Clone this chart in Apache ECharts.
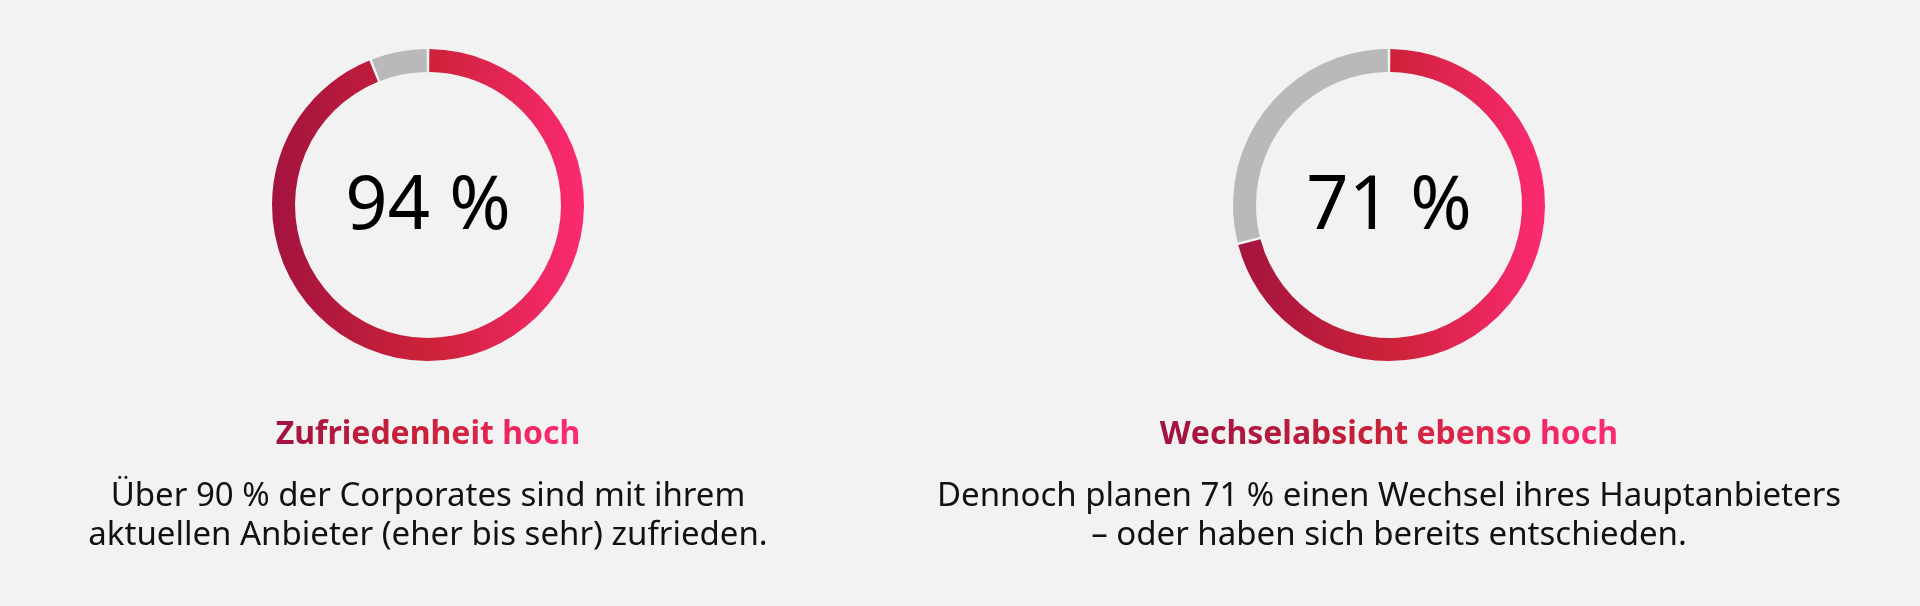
<!DOCTYPE html>
<html>
<head>
<meta charset="utf-8">
<script src="https://cdn.jsdelivr.net/npm/echarts@6/dist/echarts.min.js"></script>
<style>
  html, body { margin: 0; padding: 0; background: #f2f2f2; }
  #chart { width: 1920px; height: 606px; }
</style>
</head>
<body>
<div id="chart"></div>
<script>
// values
var shares = [94, 71];
var restLabel = 'Rest';
var headlines = ['Zufriedenheit hoch', 'Wechselabsicht ebenso hoch'];
var bodyLeft = ['Über 90 % der Corporates sind mit ihrem', 'aktuellen Anbieter (eher bis sehr) zufrieden.'];
var bodyRight = ['Dennoch planen 71 % einen Wechsel ihres Hauptanbieters', '– oder haben sich bereits entschieden.'];

var bodies = [bodyLeft, bodyRight];
var centersX = [428, 1389];
var centerY = 205;
var outerR = 156, innerR = 133;
var FONT = '"Noto Sans", "Open Sans", sans-serif';

var stops = [
  { offset: 0, color: '#a3133f' },
  { offset: 0.5, color: '#cc2239' },
  { offset: 1, color: '#fc2a72' }
];

function hexToRgb(h) {
  return [parseInt(h.substr(1, 2), 16), parseInt(h.substr(3, 2), 16), parseInt(h.substr(5, 2), 16)];
}
function colorAt(t) {
  for (var i = 1; i < stops.length; i++) {
    if (t <= stops[i].offset) {
      var a = stops[i - 1], b = stops[i];
      var k = (t - a.offset) / (b.offset - a.offset);
      var ca = hexToRgb(a.color), cb = hexToRgb(b.color);
      return 'rgb(' + ca.map(function(v, j) { return Math.round(v + (cb[j] - v) * k); }).join(',') + ')';
    }
  }
  return stops[stops.length - 1].color;
}

// headline with a left-to-right colour run, one rich style per character
function gradientText(str) {
  var rich = {}, parts = [];
  for (var i = 0; i < str.length; i++) {
    var key = 'c' + i;
    rich[key] = {
      fill: colorAt(str.length > 1 ? i / (str.length - 1) : 0),
      font: 'bold 32px ' + FONT
    };
    parts.push('{' + key + '|' + str.charAt(i) + '}');
  }
  return { text: parts.join(''), rich: rich };
}

var series = [];
var graphics = [];
for (var i = 0; i < shares.length; i++) {
  var cx = centersX[i];
  series.push({
    type: 'pie',
    center: [cx, centerY],
    radius: [innerR, outerR],
    startAngle: 90,
    clockwise: true,
    padAngle: 1,
    silent: true,
    label: { show: false },
    labelLine: { show: false },
    data: [
      {
        value: shares[i],
        name: headlines[i],
        itemStyle: {
          color: new echarts.graphic.LinearGradient(cx - outerR, 0, cx + outerR, 0, stops, true)
        }
      },
      { value: 100 - shares[i], name: restLabel, itemStyle: { color: '#b9b9b9' } }
    ]
  });

  graphics.push({
    type: 'text',
    x: cx,
    y: centerY + 3,
    style: {
      text: shares[i] + ' %',
      fill: '#000',
      font: '74px ' + FONT,
      align: 'center', textAlign: 'center',
      verticalAlign: 'middle', textVerticalAlign: 'middle'
    }
  });

  var g = gradientText(headlines[i]);
  graphics.push({
    type: 'text',
    x: cx,
    y: 435,
    style: {
      text: g.text,
      rich: g.rich,
      align: 'center', textAlign: 'center',
      verticalAlign: 'middle', textVerticalAlign: 'middle'
    }
  });

  graphics.push({
    type: 'text',
    x: cx,
    y: 516,
    style: {
      text: bodies[i].join('\n'),
      fill: '#111',
      font: '33px ' + FONT,
      lineHeight: 39,
      align: 'center', textAlign: 'center',
      verticalAlign: 'middle', textVerticalAlign: 'middle'
    }
  });
}

var myChart = echarts.init(document.getElementById('chart'));
myChart.setOption({
  backgroundColor: '#f2f2f2',
  animation: false,
  series: series,
  graphic: graphics
});
</script>
</body>
</html>
